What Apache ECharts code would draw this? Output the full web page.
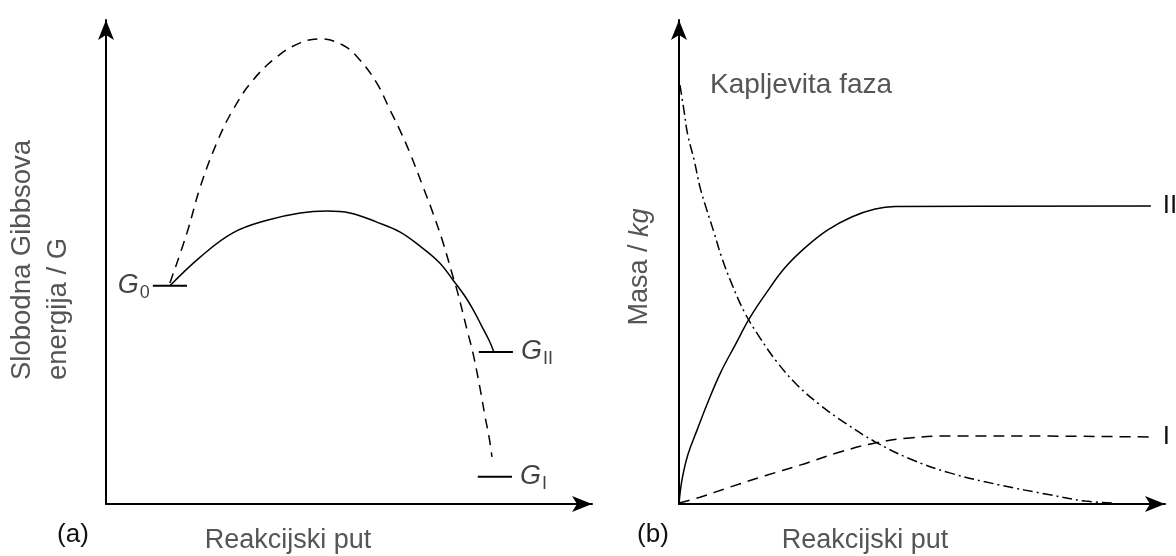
<!DOCTYPE html>
<html>
<head>
<meta charset="utf-8">
<script src="https://cdn.jsdelivr.net/npm/echarts@6/dist/echarts.min.js"></script>
<style>
html, body { margin: 0; padding: 0; background: #fff; }
#chart { width: 1176px; height: 556px; }
</style>
</head>
<body>
<div id="chart"></div>
<script>
// (a) slobodna Gibbsova energija uzduz reakcijskog puta
const solidPathA = [[13.1, 44.9], [19.3, 50.8], [26.0, 55.8], [33.0, 58.4], [39.8, 59.9], [45.3, 60.3],
    [50.0, 59.9], [55.5, 58.0], [60.2, 56.0], [64.3, 53.1], [68.4, 49.6], [71.1, 46.1], [73.4, 43.0],
    [75.4, 39.7], [77.0, 36.6], [78.5, 33.7], [79.5, 31.3]];
const dashedPathA = [[13.1, 45.5], [16.6, 55.8], [19.3, 65.2], [22.7, 74.3], [26.0, 81.1], [30.1, 87.2],
    [35.0, 92.0], [39.8, 94.9], [43.9, 95.7], [48.6, 94.4], [52.0, 91.4], [55.5, 86.6], [58.2, 81.1],
    [60.2, 77.0], [62.3, 72.2], [65.0, 65.2], [67.0, 59.9], [69.1, 53.7], [70.9, 47.5], [72.1, 43.4],
    [74.0, 35.8], [75.2, 31.1], [76.6, 24.1], [77.7, 17.9], [78.5, 13.8], [79.1, 9.7]];
const levelNames = ['0', 'II', 'I'];
const levelY = [44.9, 31.3, 5.6];
const levelX0 = [9.6, 76.4, 76.2];
const levelX1 = [16.6, 83.4, 83.2];

// (b) masa faza
const phaseII = [[0, 0], [0.6, 4.9], [1.8, 10.1], [3.7, 15.2], [6.1, 21.4], [8.6, 27.2], [11.5, 32.7],
    [14.5, 38.3], [18.0, 43.6], [21.7, 48.6], [25.8, 52.7], [30.5, 56.4], [35.5, 59.1], [40.2, 60.7],
    [44.3, 61.2], [96.7, 61.3]];
const phaseI = [[0, 0.2], [4.3, 1.4], [10.5, 3.5], [17.6, 5.8], [24.8, 8.0], [33.0, 10.7], [40.4, 12.6],
    [47.3, 13.6], [55.5, 14.0], [65.8, 14.0], [96.7, 13.8]];
const liquidPhase = [[0.2, 86.2], [1.0, 81.1], [1.8, 75.9], [3.1, 70.8], [4.3, 65.2], [5.7, 60.5],
    [7.2, 55.8], [8.8, 50.6], [10.9, 45.1], [13.5, 39.3], [16.6, 34.2], [20.1, 29.2], [24.2, 24.5],
    [28.9, 20.4], [34.0, 16.7], [40.2, 12.8], [47.3, 9.3], [55.5, 6.4], [65.8, 3.9], [76.0, 1.9],
    [83.2, 0.6], [89.3, 0.2]];
const phaseNames = ['II', 'I'];

const FONT = '"Liberation Sans", Arial, sans-serif';
const GREY = '#555';

function axis(gridIndex) {
    return {
        gridIndex: gridIndex,
        type: 'value',
        min: 0,
        max: 99.6,
        axisLine: {
            show: true,
            onZero: false,
            symbol: ['none', 'arrow'],
            symbolSize: [12, 20],
            lineStyle: { color: '#000', width: 2 }
        },
        axisTick: { show: false },
        axisLabel: { show: false },
        splitLine: { show: false }
    };
}

function curve(grid, data, type, smooth) {
    return {
        type: 'line',
        xAxisIndex: grid,
        yAxisIndex: grid,
        data: data,
        symbol: 'none',
        smooth: smooth,
        silent: true,
        lineStyle: { color: '#000', width: 1.5, type: type }
    };
}

var series = [];
series.push(curve(0, solidPathA, 'solid', 0.4));
series.push(curve(0, dashedPathA, [10, 7], 0.4));
for (var i = 0; i < levelY.length; i++) {
    var s = curve(0, [[levelX0[i], levelY[i]], [levelX1[i], levelY[i]]], 'solid', false);
    s.lineStyle.width = 2;
    series.push(s);
}
series.push({
    type: 'scatter',
    xAxisIndex: 0,
    yAxisIndex: 0,
    symbolSize: 0,
    silent: true,
    data: levelNames.map(function (n, i) {
        return {
            name: n,
            value: i === 0 ? [levelX0[i], levelY[i]] : [levelX1[i], levelY[i]],
            label: { position: i === 0 ? 'left' : 'right', distance: i === 0 ? 3 : 8 }
        };
    }),
    label: {
        show: true,
        formatter: function (p) { return '{g|G}{s|' + p.name + '}'; },
        rich: {
            g: { fontSize: 27, fontStyle: 'italic', fontFamily: FONT, color: '#111' },
            s: { fontSize: 18, fontFamily: FONT, color: '#111', padding: [14, 0, 0, 1] }
        }
    }
});

var ii = curve(1, phaseII, 'solid', 0.4);
var iI = curve(1, phaseI, [11, 7], 0.4);
[ii, iI].forEach(function (s, k) {
    s.endLabel = {
        show: true,
        formatter: phaseNames[k],
        color: '#111',
        fontSize: 26,
        fontFamily: FONT,
        distance: 12
    };
});
series.push(ii, iI);
series.push(curve(1, liquidPhase, [10, 4, 2, 4], 0.4));

var option = {
    animation: false,
    backgroundColor: '#fff',
    grid: [
        { left: 106, width: 486, top: 20, height: 484 },
        { left: 679, width: 486, top: 20, height: 484 }
    ],
    xAxis: [axis(0), axis(1)],
    yAxis: [axis(0), axis(1)],
    graphic: [
        { type: 'text', x: 22, y: 380, rotation: Math.PI / 2,
          style: { text: 'Slobodna Gibbsova', font: '27.5px ' + FONT, fill: GREY, textAlign: 'left', textVerticalAlign: 'middle' } },
        { type: 'text', x: 58, y: 380, rotation: Math.PI / 2,
          style: { text: 'energija / G', font: '27.5px ' + FONT, fill: GREY, textAlign: 'left', textVerticalAlign: 'middle' } },
        { type: 'text', x: 640, y: 267, rotation: Math.PI / 2,
          style: { text: '{n|Masa / }{i|kg}', textAlign: 'center', textVerticalAlign: 'middle',
                   rich: { n: { fontSize: 27, fontFamily: FONT, fill: GREY },
                           i: { fontSize: 27, fontFamily: FONT, fontStyle: 'italic', fill: GREY } } } },
        { type: 'text', x: 288, y: 541,
          style: { text: 'Reakcijski put', font: '27px ' + FONT, fill: GREY, textAlign: 'center', textVerticalAlign: 'middle' } },
        { type: 'text', x: 865, y: 541,
          style: { text: 'Reakcijski put', font: '27px ' + FONT, fill: GREY, textAlign: 'center', textVerticalAlign: 'middle' } },
        { type: 'text', x: 73, y: 535,
          style: { text: '(a)', font: '26px ' + FONT, fill: '#111', textAlign: 'center', textVerticalAlign: 'middle' } },
        { type: 'text', x: 653, y: 535,
          style: { text: '(b)', font: '26px ' + FONT, fill: '#111', textAlign: 'center', textVerticalAlign: 'middle' } },
        { type: 'text', x: 710, y: 85,
          style: { text: 'Kapljevita faza', font: '28px ' + FONT, fill: GREY, textAlign: 'left', textVerticalAlign: 'middle' } }
    ],
    series: series
};

var chart = echarts.init(document.getElementById('chart'));
chart.setOption(option);
</script>
</body>
</html>
